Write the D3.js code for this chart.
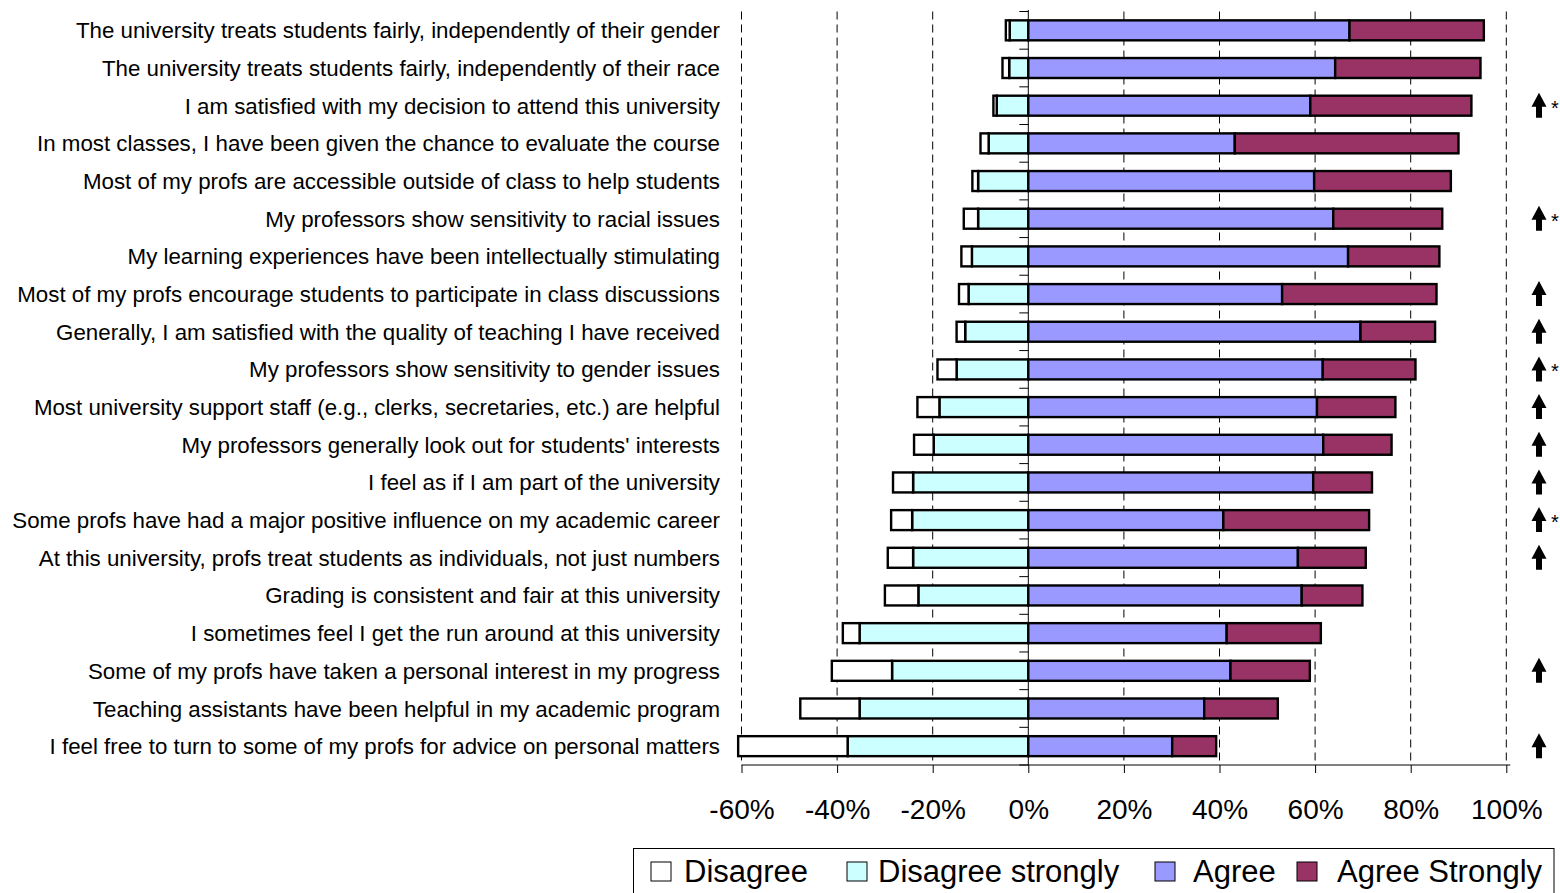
<!DOCTYPE html>
<html>
<head>
<meta charset="utf-8">
<script src="https://cdn.jsdelivr.net/npm/d3@7"></script>
<style>
  html, body { margin: 0; padding: 0; background: #fff; }
  svg { display: block; font-family: "Liberation Sans", Arial, sans-serif; }
</style>
</head>
<body>
<svg id="chart" width="1560" height="893"></svg>
<script>
// Survey statements, top to bottom
const statements = [
  "The university treats students fairly, independently of their gender",
  "The university treats students fairly, independently of their race",
  "I am satisfied with my decision to attend this university",
  "In most classes, I have been given the chance to evaluate the course",
  "Most of my profs are accessible outside of class to help students",
  "My professors show sensitivity to racial issues",
  "My learning experiences have been intellectually stimulating",
  "Most of my profs encourage students to participate in class discussions",
  "Generally, I am satisfied with the quality of teaching I have received",
  "My professors show sensitivity to gender issues",
  "Most university support staff (e.g., clerks, secretaries, etc.) are helpful",
  "My professors generally look out for students' interests",
  "I feel as if I am part of the university",
  "Some profs have had a major positive influence on my academic career",
  "At this university, profs treat students as individuals, not just numbers",
  "Grading is consistent and fair at this university",
  "I sometimes feel I get the run around at this university",
  "Some of my profs have taken a personal interest in my progress",
  "Teaching assistants have been helpful in my academic program",
  "I feel free to turn to some of my profs for advice on personal matters"
];

// Percent of respondents per answer
const disagree         = [0.8, 1.4, 0.7, 1.7, 1.2, 3.0, 2.2, 2.0, 1.8, 4.0, 4.6, 4.1, 4.2, 4.4, 5.3, 7.0, 3.5, 12.6, 12.4, 22.9];
const disagreeStrongly = [3.9, 4.0, 6.6, 8.3, 10.5, 10.5, 11.8, 12.5, 13.2, 15.0, 18.6, 19.8, 24.1, 24.3, 24.1, 23.0, 35.3, 28.5, 35.3, 37.8];
const agree            = [67.2, 64.2, 59.0, 43.2, 59.8, 63.8, 66.9, 53.1, 69.5, 61.6, 60.4, 61.7, 59.6, 40.8, 56.4, 57.2, 41.5, 42.3, 36.8, 30.1];
const agreeStrongly    = [28.1, 30.4, 33.7, 46.8, 28.6, 22.8, 19.1, 32.3, 15.6, 19.4, 16.4, 14.3, 12.3, 30.5, 14.2, 12.7, 19.7, 16.6, 15.4, 9.2];

// Significant increase (arrow) and its marked subset (*)
const increase = [0, 0, 1, 0, 0, 1, 0, 1, 1, 1, 1, 1, 1, 1, 1, 0, 0, 1, 0, 1];
const starred  = [0, 0, 1, 0, 0, 1, 0, 0, 0, 1, 0, 0, 0, 1, 0, 0, 0, 0, 0, 0];

const tickValues = [-60, -40, -20, 0, 20, 40, 60, 80, 100];
const seriesKeys   = ["disagreeStrongly", "disagree", "agree", "agreeStrongly"];
const legendLabels = ["Disagree", "Disagree strongly", "Agree", "Agree Strongly"];
const legendKeys   = ["disagree", "disagreeStrongly", "agree", "agreeStrongly"];

const colors = {
  disagree: "#FFFFFF",
  disagreeStrongly: "#CCFFFF",
  agree: "#9999FF",
  agreeStrongly: "#993366"
};

// Table for the stack layout; disagreement is stacked to the left of zero
const rows = statements.map((s, i) => ({
  statement: s,
  disagree: -disagree[i],
  disagreeStrongly: -disagreeStrongly[i],
  agree: agree[i],
  agreeStrongly: agreeStrongly[i]
}));

const stacked = d3.stack()
  .keys(seriesKeys)
  .offset(d3.stackOffsetDiverging)(rows);

const svg = d3.select("#chart");

const plotTop = 11.5, plotBottom = 765;
const x = d3.scaleLinear().domain([-60, 100]).range([741.5, 1506.3]);
const y = d3.scaleBand()
  .domain(statements)
  .range([plotTop, plotBottom])
  .paddingInner(0.47)
  .paddingOuter(0.235);

// Dashed vertical gridlines
svg.append("g")
  .selectAll("line")
  .data(tickValues.filter(v => v !== 0))
  .join("line")
  .attr("x1", d => x(d)).attr("x2", d => x(d))
  .attr("y1", plotTop).attr("y2", plotBottom)
  .attr("stroke", "#000")
  .attr("stroke-width", 1)
  .attr("stroke-dasharray", "8,5");

// Stacked bars
svg.append("g")
  .selectAll("g")
  .data(stacked)
  .join("g")
  .attr("fill", d => colors[d.key])
  .selectAll("rect")
  .data(d => d)
  .join("rect")
  .attr("x", d => x(Math.min(d[0], d[1])))
  .attr("width", d => Math.abs(x(d[1]) - x(d[0])))
  .attr("y", d => y(d.data.statement))
  .attr("height", y.bandwidth())
  .attr("stroke", "#000")
  .attr("stroke-width", 2.4);

// Category axis at zero, ticks on the category boundaries
const catAxis = svg.append("g");
catAxis.append("line")
  .attr("x1", x(0)).attr("x2", x(0))
  .attr("y1", plotTop - 1.5).attr("y2", plotBottom)
  .attr("stroke", "#000").attr("stroke-width", 1);
catAxis.selectAll("line.tick")
  .data(d3.range(statements.length + 1))
  .join("line")
  .attr("class", "tick")
  .attr("x1", x(0) - 9).attr("x2", x(0))
  .attr("y1", i => plotTop + i * y.step())
  .attr("y2", i => plotTop + i * y.step())
  .attr("stroke", "#000").attr("stroke-width", 1);

// Statement labels
svg.append("g")
  .selectAll("text")
  .data(statements)
  .join("text")
  .attr("x", 720)
  .attr("y", d => y(d) + y.bandwidth() / 2)
  .attr("dy", "0.36em")
  .attr("text-anchor", "end")
  .attr("font-size", 22.3)
  .attr("fill", "#000")
  .text(d => d);

// Value axis along the bottom
const xAxis = d3.axisBottom(x)
  .tickValues(tickValues)
  .tickFormat(d => d + "%")
  .tickSize(8)
  .tickPadding(26);
const xg = svg.append("g")
  .attr("transform", `translate(0,${plotBottom})`)
  .call(xAxis);
xg.select(".domain").remove();
xg.append("line")
  .attr("x1", x(-60)).attr("x2", x(100) + 4)
  .attr("y1", 0).attr("y2", 0)
  .attr("stroke", "#000");
xg.selectAll(".tick line").attr("stroke", "#000");
xg.selectAll(".tick text")
  .attr("font-size", 28)
  .attr("font-family", "'Liberation Sans', Arial, sans-serif")
  .attr("fill", "#000");

// Significance markers
const markX = 1539;
const arrowPath = "M0,-13 L7.5,1 L3,1 L3,12 L-3,12 L-3,1 L-7.5,1 Z";
const marks = svg.append("g");
marks.selectAll("path")
  .data(statements.filter((s, i) => increase[i]))
  .join("path")
  .attr("d", arrowPath)
  .attr("transform", d => `translate(${markX},${y(d) + y.bandwidth() / 2})`)
  .attr("fill", "#000");
marks.selectAll("text")
  .data(statements.filter((s, i) => starred[i]))
  .join("text")
  .attr("x", markX + 12)
  .attr("y", d => y(d) + y.bandwidth() / 2 + 9)
  .attr("font-size", 20)
  .attr("fill", "#000")
  .text("*");

// Legend
const legend = svg.append("g");
legend.append("rect")
  .attr("x", 633.5).attr("y", 848.5)
  .attr("width", 920.5).attr("height", 70)
  .attr("fill", "#fff").attr("stroke", "#000").attr("stroke-width", 1);
const swatchX = [651, 847, 1155, 1297];
const labelX  = [684, 878, 1193, 1337];
const items = legend.selectAll("g.item")
  .data(legendKeys)
  .join("g")
  .attr("class", "item");
items.append("rect")
  .attr("x", (d, i) => swatchX[i])
  .attr("y", 862)
  .attr("width", 20).attr("height", 19)
  .attr("fill", d => colors[d])
  .attr("stroke", "#000").attr("stroke-width", 1);
items.append("text")
  .attr("x", (d, i) => labelX[i])
  .attr("y", 882)
  .attr("font-size", 31)
  .attr("fill", "#000")
  .text((d, i) => legendLabels[i]);
</script>
</body>
</html>
